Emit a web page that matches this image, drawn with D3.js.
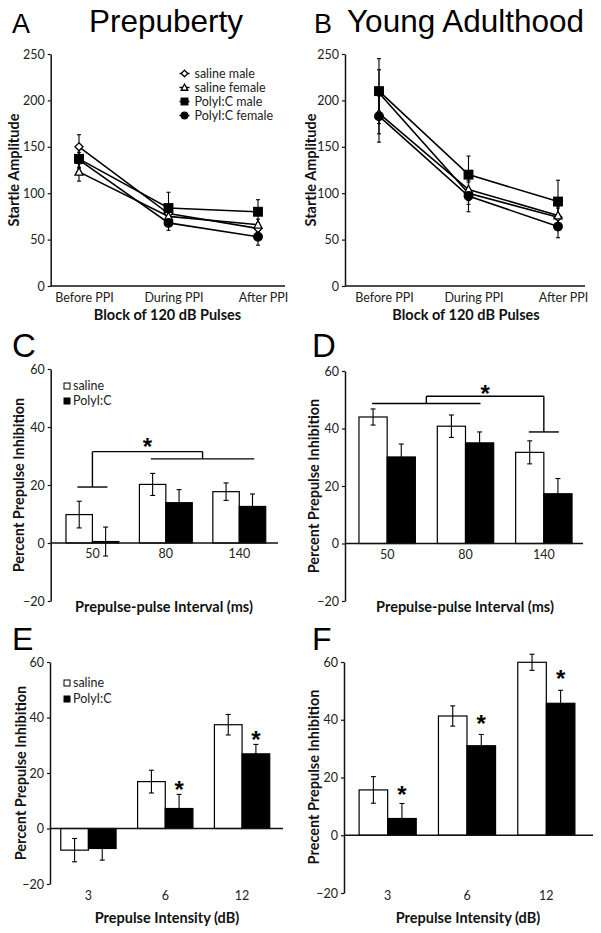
<!DOCTYPE html>
<html><head><meta charset="utf-8">
<script src="https://cdn.jsdelivr.net/npm/d3@7"></script>
<style>body{margin:0;background:#fff}</style>
</head><body>
<svg id="c" width="601" height="933" xmlns="http://www.w3.org/2000/svg"></svg>
<script>
// ---------- DATA ----------
const blockCats = ["Before PPI", "During PPI", "After PPI"];
const lineSeries = ["saline male", "saline female", "PolyI:C male", "PolyI:C female"];
const lineTicks = [0, 50, 100, 150, 200, 250];

// Panel A (Prepuberty)
const aSalineMale = [150, 78, 62];
const aSalineMaleSE = [13, 7, 6];
const aSalineFemale = [123, 75, 66];
const aSalineFemaleSE = [10, 7, 6];
const aPolyMale = [137, 84, 80];
const aPolyMaleSE = [10, 17, 13];
const aPolyFemale = [136, 68, 53];
const aPolyFemaleSE = [8, 8, 9];

// Panel B (Young Adulthood)
const bSalineMale = [208, 100, 74];
const bSalineMaleSE = [25, 12, 10];
const bSalineFemale = [186, 104, 76];
const bSalineFemaleSE = [22, 12, 10];
const bPolyMale = [210, 120, 91];
const bPolyMaleSE = [35, 20, 23];
const bPolyFemale = [183, 97, 64];
const bPolyFemaleSE = [28, 17, 12];

const groups = ["saline", "PolyI:C"];
const barTicks = [-20, 0, 20, 40, 60];

// Panel C / D : interval
const intervalCats = ["50", "80", "140"];
const cSaline = [9.8, 20.2, 17.7];
const cSalineSE = [4.6, 3.8, 3.0];
const cPoly = [0.5, 13.9, 12.6];
const cPolySE = [5.0, 4.5, 4.3];
const dSaline = [44.0, 40.8, 31.7];
const dSalineSE = [2.8, 3.9, 4.0];
const dPoly = [30.1, 35.0, 17.3];
const dPolySE = [4.5, 3.8, 5.3];

// Panel E / F : intensity
const intensityCats = ["3", "6", "12"];
const eSaline = [-7.8, 16.9, 37.4];
const eSalineSE = [4.2, 4.1, 3.7];
const ePoly = [-7.2, 7.2, 26.9];
const ePolySE = [4.2, 5.1, 3.4];
const fSaline = [15.7, 41.3, 59.9];
const fSalineSE = [4.6, 3.5, 2.8];
const fPoly = [5.8, 31.0, 45.7];
const fPolySE = [5.2, 3.9, 4.5];

// significance annotations
const cBracket = {left: ["50"], leftLevel: 19.3, right: ["80", "140"], rightLevel: 29, top: 31.5, star: 35.5};
const dBracket = {left: ["50", "80"], leftLevel: 48.7, right: ["140"], rightLevel: 38.8, top: 51.2, star: 54.3};
const eStars = [{cat: "6", level: 16.4}, {cat: "12", level: 34.4}];
const fStars = [{cat: "3", level: 16.3}, {cat: "6", level: 40.9}, {cat: "12", level: 56.5}];

// ---------- DRAWING ----------
const svg = d3.select("#c");
svg.append("rect").attr("width", 601).attr("height", 933).attr("fill", "#fff");
const FONT = "Lato, 'Open Sans', sans-serif";
const TFONT = "'Liberation Sans', Arial, sans-serif";
const INK = "#111";

function styleAxis(g) {
  g.selectAll("path.domain").attr("stroke", INK).attr("stroke-width", 1.5);
  g.selectAll(".tick line").attr("stroke", INK).attr("stroke-width", 1.2);
  g.selectAll(".tick text").attr("font-family", FONT).attr("font-size", 12.5).attr("fill", "#222");
}

function yAxisTitle(x, yc, txt) {
  svg.append("text").attr("transform", `translate(${x},${yc}) rotate(-90)`)
    .attr("text-anchor", "middle").attr("dy", "0.35em")
    .attr("font-family", FONT).attr("font-weight", "bold").attr("font-size", 14.5)
    .attr("fill", INK).text(txt);
}
function xAxisTitle(xc, y, txt) {
  svg.append("text").attr("x", xc).attr("y", y).attr("text-anchor", "middle").attr("dy", "0.35em")
    .attr("font-family", FONT).attr("font-weight", "bold").attr("font-size", 14.5)
    .attr("fill", INK).text(txt);
}

const symbolFor = {
  "saline male": {type: "diamond", fill: "#fff"},
  "saline female": {type: "triangle", fill: "#fff"},
  "PolyI:C male": {type: "square", fill: "#000"},
  "PolyI:C female": {type: "circle", fill: "#000"}
};
function drawMarker(g, name, cx, cy, s) {
  const m = symbolFor[name];
  let el;
  if (m.type === "diamond") {
    el = g.append("path").attr("d", `M${cx},${cy - s}L${cx + s},${cy}L${cx},${cy + s}L${cx - s},${cy}Z`);
  } else if (m.type === "triangle") {
    const h = s * 1.05;
    el = g.append("path").attr("d", `M${cx},${cy - h}L${cx + s},${cy + h * 0.8}L${cx - s},${cy + h * 0.8}Z`);
  } else if (m.type === "square") {
    el = g.append("rect").attr("x", cx - s).attr("y", cy - s).attr("width", 2 * s).attr("height", 2 * s);
  } else {
    el = g.append("circle").attr("cx", cx).attr("cy", cy).attr("r", s);
  }
  el.attr("fill", m.fill).attr("stroke", "#000").attr("stroke-width", 1.3);
}

function linePanel(L, values, errs, legend) {
  const y = d3.scaleLinear().domain([0, 250]).range([L.bottom, L.top]);
  const x = d3.scalePoint().domain(blockCats).range([L.left + L.padL, L.right - L.padR]);
  const g = svg.append("g");
  const ya = g.append("g").attr("transform", `translate(${L.left},0)`)
    .call(d3.axisLeft(y).tickValues(lineTicks).tickSize(3).tickPadding(3).tickSizeOuter(0));
  styleAxis(ya);
  g.append("line").attr("x1", L.left).attr("x2", L.right).attr("y1", y(0)).attr("y2", y(0))
    .attr("stroke", INK).attr("stroke-width", 1.5);
  const xa = g.append("g").attr("transform", `translate(0,${y(0)})`)
    .call(d3.axisBottom(x).tickSize(0).tickPadding(7));
  xa.select("path.domain").remove();
  styleAxis(xa);
  xa.selectAll(".tick text").attr("dx", 5);
  const ln = d3.line().x((d, i) => x(blockCats[i])).y(d => y(d));
  lineSeries.forEach((s, k) => {
    g.append("path").attr("d", ln(values[k])).attr("fill", "none").attr("stroke", "#000").attr("stroke-width", 1.6);
  });
  lineSeries.forEach((s, k) => {
    values[k].forEach((v, i) => {
      const cx = x(blockCats[i]);
      const e = errs[k][i];
      g.append("line").attr("x1", cx).attr("x2", cx).attr("y1", y(v - e)).attr("y2", y(v + e)).attr("stroke", "#000").attr("stroke-width", 1.1);
      [v - e, v + e].forEach(w => g.append("line").attr("x1", cx - 2).attr("x2", cx + 2).attr("y1", y(w)).attr("y2", y(w)).attr("stroke", "#000").attr("stroke-width", 1.1));
    });
  });
  lineSeries.forEach((s, k) => {
    values[k].forEach((v, i) => drawMarker(g, s, x(blockCats[i]), y(v), s.includes("PolyI") ? 4.3 : 4));
  });
  if (legend) {
    lineSeries.forEach((s, k) => {
      const yy = legend.y + k * legend.dy;
      g.append("line").attr("x1", legend.x - 5).attr("x2", legend.x + 5).attr("y1", yy).attr("y2", yy).attr("stroke", "#000").attr("stroke-width", 1.5);
      drawMarker(g, s, legend.x, yy, 3.3);
      g.append("text").attr("x", legend.x + 10).attr("y", yy).attr("dy", "0.35em")
        .attr("font-family", FONT).attr("font-size", 12.5).attr("fill", "#222").text(s);
    });
  }
  return {x, y};
}

function barPanel(L, cats, sal, salSE, poly, polySE, legend) {
  const y = d3.scaleLinear().domain([-20, 60]).range([L.bottom, L.top]);
  const x0 = d3.scaleBand().domain(cats).range([L.left + L.padL, L.right - L.padR]).paddingInner(0.28).paddingOuter(0.14);
  const x1 = d3.scaleBand().domain(groups).range([0, x0.bandwidth()]);
  const g = svg.append("g");
  const ya = g.append("g").attr("transform", `translate(${L.left},0)`)
    .call(d3.axisLeft(y).tickValues(barTicks).tickSize(3).tickPadding(3).tickSizeOuter(0));
  styleAxis(ya);
  const vals = [sal, poly], ses = [salSE, polySE];
  groups.forEach((gname, k) => {
    vals[k].forEach((v, i) => {
      const bx = x0(cats[i]) + x1(gname);
      g.append("rect").attr("x", bx).attr("width", x1.bandwidth())
        .attr("y", y(Math.max(0, v))).attr("height", Math.abs(y(v) - y(0)))
        .attr("fill", k === 0 ? "#fff" : "#000").attr("stroke", "#000").attr("stroke-width", 1.2);
    });
  });
  groups.forEach((gname, k) => {
    vals[k].forEach((v, i) => {
      const cx = x0(cats[i]) + x1(gname) + x1.bandwidth() / 2;
      const e = ses[k][i];
      g.append("line").attr("x1", cx).attr("x2", cx).attr("y1", y(v - e)).attr("y2", y(v + e)).attr("stroke", "#000").attr("stroke-width", 1.1);
      [v - e, v + e].forEach(w => g.append("line").attr("x1", cx - 2.5).attr("x2", cx + 2.5).attr("y1", y(w)).attr("y2", y(w)).attr("stroke", "#000").attr("stroke-width", 1.1));
    });
  });
  g.append("line").attr("x1", L.left).attr("x2", L.right).attr("y1", y(0)).attr("y2", y(0))
    .attr("stroke", INK).attr("stroke-width", 1.5);
  const xa = g.append("g").attr("transform", `translate(0,${L.labelY})`)
    .call(d3.axisBottom(x0).tickSize(0).tickPadding(0));
  xa.select("path.domain").remove();
  styleAxis(xa);
  xa.selectAll(".tick text").attr("dy", "0.35em").attr("y", 0);
  if (legend) {
    groups.forEach((gname, k) => {
      const yy = legend.y + k * legend.dy;
      g.append("rect").attr("x", legend.x - 3).attr("y", yy - 3).attr("width", 6).attr("height", 6)
        .attr("fill", k === 0 ? "#fff" : "#000").attr("stroke", "#000").attr("stroke-width", 1);
      g.append("text").attr("x", legend.x + 6).attr("y", yy).attr("dy", "0.35em")
        .attr("font-family", FONT).attr("font-size", 12.5).attr("fill", "#222").text(gname);
    });
  }
  return {g, x0, x1, y};
}

function star(g, cx, cy) {
  g.append("text").attr("x", cx).attr("y", cy).attr("dy", "0.62em").attr("text-anchor", "middle")
    .attr("font-family", TFONT).attr("font-weight", "bold").attr("font-size", 24).attr("fill", "#000").text("*");
}

function bracket(P, b) {
  const {g, x0, y} = P;
  const c = k => x0(k) + x0.bandwidth() / 2;
  const ext = 15;
  const lxs = b.left.map(c), rxs = b.right.map(c);
  const lmin = d3.min(lxs) - ext, lmax = d3.max(lxs) + ext;
  const rmin = d3.min(rxs) - ext, rmax = d3.max(rxs) + ext;
  const lmid = (lmin + lmax) / 2, rmid = (rmin + rmax) / 2;
  const seg = (x1, y1, x2, y2) => g.append("line").attr("x1", x1).attr("y1", y1).attr("x2", x2).attr("y2", y2)
    .attr("stroke", "#000").attr("stroke-width", 1.4);
  seg(lmin, y(b.leftLevel), lmax, y(b.leftLevel));
  seg(rmin, y(b.rightLevel), rmax, y(b.rightLevel));
  seg(lmid, y(b.leftLevel), lmid, y(b.top));
  seg(rmid, y(b.rightLevel), rmid, y(b.top));
  seg(lmid, y(b.top), rmid, y(b.top));
  star(g, (lmid + rmid) / 2, y(b.star));
}

function stars(P, list) {
  const {g, x0, x1, y} = P;
  list.forEach(s => star(g, x0(s.cat) + x1("PolyI:C") + x1.bandwidth() / 2, y(s.level)));
}

// ----- Panel A -----
const LA = {left: 50.7, right: 285, top: 54, bottom: 286, padL: 28.3, padR: 27};
linePanel(LA, [aSalineMale, aSalineFemale, aPolyMale, aPolyFemale],
  [aSalineMaleSE, aSalineFemaleSE, aPolyMaleSE, aPolyFemaleSE], {x: 184.5, y: 73.5, dy: 14});
yAxisTitle(14, 170, "Startle Amplitude");
xAxisTitle(167.5, 315, "Block of 120 dB Pulses");

// ----- Panel B -----
const LB = {left: 345, right: 585, top: 54, bottom: 286, padL: 34, padR: 27};
linePanel(LB, [bSalineMale, bSalineFemale, bPolyMale, bPolyFemale],
  [bSalineMaleSE, bSalineFemaleSE, bPolyMaleSE, bPolyFemaleSE], null);
yAxisTitle(310.5, 170, "Startle Amplitude");
xAxisTitle(466, 315, "Block of 120 dB Pulses");

// ----- Panel C -----
const LC = {left: 50.7, right: 278, top: 369, bottom: 601, padL: 5, padR: 2};
LC.labelY = 554;
const PC = barPanel(LC, intervalCats, cSaline, cSalineSE, cPoly, cPolySE, {x: 67, y: 386, dy: 15});
bracket(PC, cBracket);
yAxisTitle(19, 485, "Percent Prepulse Inhibition");
xAxisTitle(164, 607, "Prepulse-pulse Interval (ms)");

// ----- Panel D -----
const LD = {left: 345, right: 583, top: 371, bottom: 601, padL: 3, padR: 0};
LD.labelY = 555;
const PD = barPanel(LD, intervalCats, dSaline, dSalineSE, dPoly, dPolySE, null);
bracket(PD, dBracket);
yAxisTitle(314, 486, "Percent Prepulse Inhibition");
xAxisTitle(465, 607, "Prepulse-pulse Interval (ms)");

// ----- Panel E -----
const LE = {left: 50, right: 283, top: 662, bottom: 884, padL: 0, padR: 2.5};
LE.labelY = 896;
const PE = barPanel(LE, intensityCats, eSaline, eSalineSE, ePoly, ePolySE, {x: 67, y: 683, dy: 16});
stars(PE, eStars);
yAxisTitle(21, 773, "Percent Prepulse Inhibition");
xAxisTitle(167, 918, "Prepulse Intensity (dB)");

// ----- Panel F -----
const LF = {left: 344, right: 593, top: 662, bottom: 893, padL: 4, padR: 7};
LF.labelY = 896;
const PF = barPanel(LF, intensityCats, fSaline, fSalineSE, fPoly, fPolySE, null);
stars(PF, fStars);
yAxisTitle(314, 777, "Precent Prepulse Inhibition");
xAxisTitle(468, 918, "Prepulse Intensity (dB)");

// ----- Panel letters and titles -----
function big(x, y, size, txt) {
  svg.append("text").attr("x", x).attr("y", y).attr("font-family", TFONT).attr("font-size", size).attr("fill", "#000").text(txt);
}
big(12, 33, 27, "A");
big(89, 32, 31.5, "Prepuberty");
big(314, 33, 27, "B");
big(347, 32, 31.5, "Young Adulthood");
big(12, 357, 33, "C");
big(312, 357, 33, "D");
big(12, 650, 32, "E");
big(312, 650, 32, "F");
</script>
</body></html>
